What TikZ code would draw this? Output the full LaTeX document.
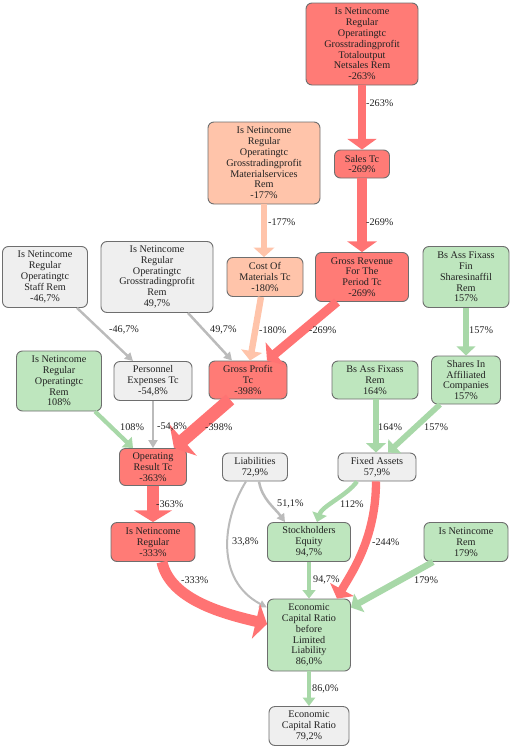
\documentclass[tikz,border=0pt]{standalone}
\usepackage{fontspec}
\setmainfont{Liberation Serif}
\usetikzlibrary{arrows.meta}
\definecolor{redf}{HTML}{FF7B76}
\definecolor{rede}{HTML}{FF7373}
\definecolor{orf}{HTML}{FFC4AA}
\definecolor{ore}{HTML}{FFC4AA}
\definecolor{grf}{HTML}{BEE6BE}
\definecolor{gre}{HTML}{A8D8A8}
\definecolor{gyf}{HTML}{EFEFEF}
\definecolor{gye}{HTML}{BBBBBB}
\definecolor{bord}{HTML}{6E6E6E}
\definecolor{txt}{HTML}{222222}
\tikzset{
  box/.style={draw=bord, line width=0.9pt, rounded corners=6pt, align=center,
    inner sep=1pt, font=\fontsize{10.2}{10.8}\selectfont, text=txt},
  rbox/.style={box, fill=redf},
  obox/.style={box, fill=orf},
  gbox/.style={box, fill=grf},
  ybox/.style={box, fill=gyf},
  conn/.style={-{Triangle[length=7pt 0.4, width=1pt 3.1]}},
  lbl/.style={anchor=west, inner sep=0pt, font=\fontsize{10.2}{10.8}\selectfont, text=txt},
}
\begin{document}
\begin{tikzpicture}[x=1pt,y=-1pt]
\useasboundingbox (0,0) rectangle (512,747);
% nodes
\node[rbox, minimum width=112pt, minimum height=82pt] (top) at (362,44)
  {Is Netincome\\Regular\\Operatingtc\\Grosstradingprofit\\Totaloutput\\Netsales Rem\\-263\%};
\node[rbox, minimum width=55pt, minimum height=28pt] (sales) at (362,164) {Sales Tc\\-269\%};
\node[obox, minimum width=112pt, minimum height=82pt] (mat) at (264,163)
  {Is Netincome\\Regular\\Operatingtc\\Grosstradingprofit\\Materialservices\\Rem\\-177\%};
\node[obox, minimum width=76pt, minimum height=39pt] (cost) at (265,277) {Cost Of\\Materials Tc\\-180\%};
\node[rbox, minimum width=93pt, minimum height=49pt] (grev) at (362,277) {Gross Revenue\\For The\\Period Tc\\-269\%};
\node[gbox, minimum width=86pt, minimum height=61pt] (sfin) at (466,277) {Bs Ass Fixass\\Fin\\Sharesinaffil\\Rem\\157\%};
\node[ybox, minimum width=85pt, minimum height=61pt] (staff) at (45,277) {Is Netincome\\Regular\\Operatingtc\\Staff Rem\\-46,7\%};
\node[ybox, minimum width=112pt, minimum height=71pt] (gtp) at (157,277) {Is Netincome\\Regular\\Operatingtc\\Grosstradingprofit\\Rem\\49,7\%};
\node[gbox, minimum width=85pt, minimum height=60pt] (oprem) at (59,381) {Is Netincome\\Regular\\Operatingtc\\Rem\\108\%};
\node[ybox, minimum width=78pt, minimum height=39pt] (pers) at (153,381) {Personnel\\Expenses Tc\\-54,8\%};
\node[rbox, minimum width=78pt, minimum height=38pt] (gp) at (248,380) {Gross Profit\\Tc\\-398\%};
\node[gbox, minimum width=86pt, minimum height=38pt] (fixrem) at (375,380) {Bs Ass Fixass\\Rem\\164\%};
\node[gbox, minimum width=69pt, minimum height=48pt] (saff) at (466,380) {Shares In\\Affiliated\\Companies\\157\%};
\node[rbox, minimum width=67pt, minimum height=37pt] (opres) at (153,467) {Operating\\Result Tc\\-363\%};
\node[ybox, minimum width=65pt, minimum height=28pt] (liab) at (255,467) {Liabilities\\72,9\%};
\node[ybox, minimum width=78pt, minimum height=28pt] (fixed) at (377,467) {Fixed Assets\\57,9\%};
\node[rbox, minimum width=84pt, minimum height=39pt] (netreg) at (153,542) {Is Netincome\\Regular\\-333\%};
\node[gbox, minimum width=83pt, minimum height=39pt] (stock) at (309,542) {Stockholders\\Equity\\94,7\%};
\node[gbox, minimum width=84pt, minimum height=39pt] (netrem) at (466,542) {Is Netincome\\Rem\\179\%};
\node[gbox, minimum width=83pt, minimum height=72pt] (ecrb) at (309,635) {Economic\\Capital Ratio\\before\\Limited\\Liability\\86,0\%};
\node[ybox, minimum width=80pt, minimum height=39pt] (ecr) at (309,726) {Economic\\Capital Ratio\\79,2\%};
% connectors
\draw[conn, rede, line width=8.9pt] (top.south) -- (sales.north);
\draw[conn, rede, line width=9.1pt] (sales.south) -- (grev.north);
\draw[conn, ore, line width=6.3pt] (mat.south) -- ([xshift=-1pt]cost.north);
\draw[conn, ore, line width=6.4pt] ([xshift=-4pt]cost.south) -- ([xshift=2pt]gp.north);
\draw[conn, rede, line width=9.1pt] ([xshift=-25pt]grev.south) -- ([xshift=19pt]gp.north);
\draw[conn, gye, line width=2.4pt] ([xshift=32pt]staff.south) -- ([xshift=-20pt]pers.north);
\draw[conn, gye, line width=2.5pt] ([xshift=31pt]gtp.south) -- ([xshift=-16pt]gp.north);
\draw[conn, gre, line width=5.7pt] (sfin.south) -- (saff.north);
\draw[conn, gre, line width=4.2pt] ([xshift=36pt]oprem.south) -- ([xshift=-20pt]opres.north);
\draw[conn, gye, line width=2.6pt] (pers.south) -- (opres.north);
\draw[conn, rede, line width=12.9pt] ([xshift=-18pt]gp.south) -- ([xshift=21pt]opres.north);
\draw[conn, gre, line width=5.9pt] ([xshift=1pt]fixrem.south) -- ([xshift=-1pt]fixed.north);
\draw[conn, gre, line width=5.7pt] ([xshift=-26pt]saff.south) -- ([xshift=11pt]fixed.north);
\draw[conn, rede, line width=11.9pt] (opres.south) -- (netreg.north);
\draw[conn, gye, line width=2.5pt] ([xshift=4pt]liab.south) .. controls +(3,18) and +(-10,-14) .. ([xshift=-24pt]stock.north);
\draw[conn, gye, line width=2.0pt] ([xshift=-9pt]liab.south) .. controls (222,520) and (215,580) .. ([yshift=-9pt]ecrb.north west);
\draw[conn, gre, line width=4.4pt] ([xshift=-20pt]fixed.south) .. controls +(-10,14) and +(5,-16) .. ([xshift=8pt]stock.north);
\draw[conn, rede, line width=8.3pt] ([xshift=-1pt]fixed.south) .. controls (376,540) and (350,575) .. ([xshift=28pt]ecrb.north);
\draw[conn, gre, line width=6.4pt] ([xshift=-33pt]netrem.south) -- ([yshift=-9pt]ecrb.north east);
\draw[conn, gre, line width=3.8pt] (stock.south) -- (ecrb.north);
\draw[conn, rede, line width=11pt] ([xshift=9pt]netreg.south) .. controls (170,600) and (225,614) .. ([yshift=11pt]ecrb.west);
\draw[conn, gre, line width=3.6pt] (ecrb.south) -- (ecr.north);
% labels
\node[lbl] (l1) at (366,103) {-263\%};
\node[lbl] (l2) at (366,222) {-269\%};
\node[lbl] (l3) at (268,222) {-177\%};
\node[lbl] (l4) at (109,330) {-46,7\%};
\node[lbl] (l5) at (210,330) {49,7\%};
\node[lbl] (l6) at (259,330) {-180\%};
\node[lbl] (l7) at (309,330) {-269\%};
\node[lbl] (l8) at (469,330) {157\%};
\node[lbl] (l9) at (120,427) {108\%};
\node[lbl] (l10) at (157,427) {-54,8\%};
\node[lbl] (l11) at (205,427) {-398\%};
\node[lbl] (l12) at (378,427) {164\%};
\node[lbl] (l13) at (424,427) {157\%};
\node[lbl] (l14) at (156,504) {-363\%};
\node[lbl] (l15) at (277,504) {51,1\%};
\node[lbl] (l16) at (340,504) {112\%};
\node[lbl] (l17) at (232,542) {33,8\%};
\node[lbl] (l18) at (372,542) {-244\%};
\node[lbl] (l19) at (181,580) {-333\%};
\node[lbl] (l20) at (313,580) {94,7\%};
\node[lbl] (l21) at (414,580) {179\%};
\node[lbl] (l22) at (312,689) {86,0\%};
\end{tikzpicture}
\end{document}
